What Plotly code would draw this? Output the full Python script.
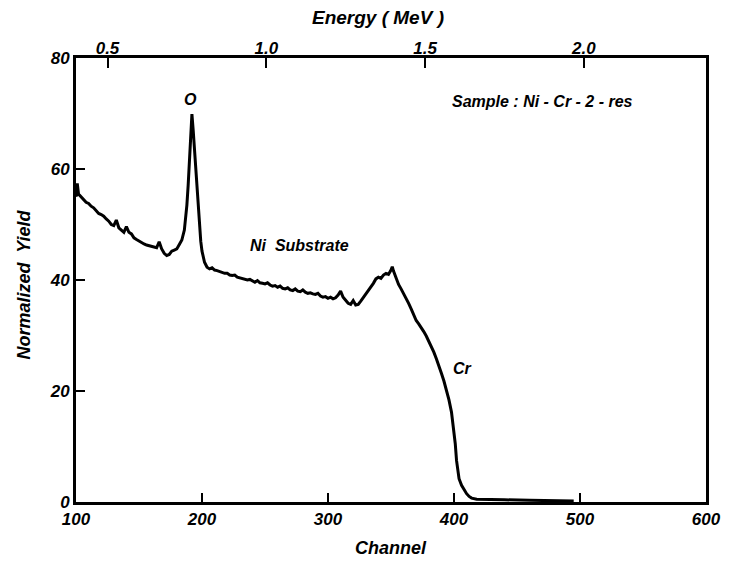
import plotly.graph_objects as go

channel = [100, 101, 102, 104, 106, 108, 110, 112, 114, 116, 118, 120, 122, 124, 126, 128, 130, 132, 134, 136,
           138, 140, 142, 144, 146, 148, 150, 152, 154, 156, 158, 160, 162, 164, 166, 168, 170, 172, 174, 176,
           178, 180, 182, 184, 186, 187, 188, 189, 190, 191, 192, 193, 194, 195, 196, 197, 198, 199, 200, 201,
           202, 204, 206, 208, 210, 212, 214, 216, 218, 220, 222, 224, 226, 228, 230, 232, 234, 236, 238, 240,
           242, 244, 246, 248, 250, 252, 254, 256, 258, 260, 262, 264, 266, 268, 270, 272, 274, 276, 278, 280,
           282, 284, 286, 288, 290, 292, 294, 296, 298, 300, 302, 304, 306, 308, 310, 312, 314, 316, 318, 320,
           322, 324, 326, 328, 330, 332, 334, 336, 338, 340, 342, 344, 346, 348, 350, 351, 352, 354, 356, 358,
           360, 362, 364, 366, 368, 370, 372, 374, 376, 378, 380, 382, 384, 386, 388, 390, 392, 394, 396, 398,
           400, 401, 402, 403, 404, 406, 408, 410, 412, 414, 418, 425, 440, 460, 480, 495]
yield_ = [55.0, 57.4, 55.5, 55.0, 54.6, 54.0, 53.8, 53.3, 53.0, 52.4, 52.0, 51.8, 51.5, 51.0, 50.6, 50.0, 49.8, 50.8, 49.4, 49.0,
          48.6, 49.6, 48.6, 48.3, 47.6, 47.3, 47.0, 46.8, 46.5, 46.3, 46.2, 46.0, 46.0, 45.8, 46.9, 45.6, 44.8, 44.4, 44.6, 45.2,
          45.4, 45.6, 46.4, 47.2, 49.0, 51.0, 53.5, 57.0, 61.5, 66.0, 69.9, 67.0, 63.5, 59.5, 56.0, 53.0, 50.0, 47.0, 45.2, 44.0,
          43.2, 42.3, 42.0, 42.2, 41.8, 41.7, 41.5, 41.4, 41.2, 41.2, 40.9, 40.8, 40.9, 40.5, 40.4, 40.3, 40.1, 40.0, 40.1, 39.8,
          39.6, 39.9, 39.5, 39.4, 39.3, 39.5, 39.1, 38.9, 39.0, 38.7, 38.9, 38.5, 38.4, 38.6, 38.2, 38.1, 38.4, 38.0, 37.9, 38.2,
          37.8, 37.6, 37.7, 37.5, 37.4, 37.6, 37.1, 36.9, 37.0, 36.7, 36.9, 36.6, 36.8, 37.3, 38.0, 36.9, 36.3, 35.8, 35.6, 36.3,
          35.5, 35.6, 36.2, 36.8, 37.4, 38.0, 38.8, 39.4, 40.2, 40.5, 40.3, 40.9, 41.2, 41.0, 41.8, 42.4, 41.6, 40.2, 39.2, 38.4,
          37.6, 36.8, 35.8, 34.8, 33.6, 32.7, 32.1, 31.5, 30.7, 29.9, 29.0, 28.0, 27.0, 25.8, 24.6, 23.2, 21.8, 20.3, 18.4, 16.2,
          12.8, 10.5, 7.5, 5.5, 4.2, 3.0, 2.2, 1.5, 1.0, 0.7, 0.5, 0.5, 0.4, 0.3, 0.25, 0.2]

channel_ticks = [100, 200, 300, 400, 500, 600]
yield_ticks = [0, 20, 40, 60, 80]
energy_ticks = [0.5, 1.0, 1.5, 2.0]
energy_labels = ["0.5", "1.0", "1.5", "2.0"]

# energy calibration (MeV per channel)
E0, CH0, SLOPE = 0.5, 125.0, 1 / 252.0
def energy(ch):
    return E0 + (ch - CH0) * SLOPE

ch_range = [100, 600]
font_fam = "Liberation Sans"
tfont = dict(family=font_fam, size=17, color="black", style="italic", weight="bold")
titlefont = dict(family=font_fam, size=18, color="black", style="italic", weight="bold")
afont = dict(family=font_fam, size=16, color="black", style="italic", weight="bold")

fig = go.Figure()
fig.add_trace(go.Scatter(x=channel, y=yield_, mode="lines",
                         line=dict(color="black", width=3), showlegend=False))
fig.add_trace(go.Scatter(x=[energy(c) for c in ch_range], y=[None, None], xaxis="x2",
                         mode="lines", showlegend=False, hoverinfo="skip"))

annots = [
    dict(x=190.5, y=72.6, text="O"),
    dict(x=277, y=46.3, text="Ni  Substrate"),
    dict(x=407, y=24, text="Cr"),
    dict(x=470, y=72.2, text="Sample : Ni - Cr - 2 - res"),
]
for a in annots:
    fig.add_annotation(x=a["x"], y=a["y"], text=a["text"], showarrow=False, font=afont)

# axis titles
fig.add_annotation(xref="paper", yref="paper", x=0.479, y=1.0, yshift=41, text="Energy ( MeV )",
                   xanchor="center", yanchor="middle", showarrow=False, font=dict(titlefont, size=19))
fig.add_annotation(xref="paper", yref="paper", x=0.5, y=0.0, yshift=-46, text="Channel",
                   xanchor="center", yanchor="middle", showarrow=False, font=titlefont)
fig.add_annotation(xref="paper", yref="paper", x=0.0, y=0.49, xshift=-52, text="Normalized  Yield",
                   xanchor="center", yanchor="middle", textangle=-90, showarrow=False, font=titlefont)

fig.update_layout(
    width=730, height=561,
    margin=dict(l=76, r=24, t=58, b=59, autoexpand=False),
    paper_bgcolor="white", plot_bgcolor="white",
    xaxis=dict(range=ch_range, tickvals=channel_ticks, ticks="inside", ticklen=9, tickwidth=2,
               tickcolor="black", showline=True, linewidth=3, linecolor="black", mirror=True,
               showgrid=False, zeroline=False, tickfont=tfont, automargin=False),
    xaxis2=dict(range=[energy(c) for c in ch_range], overlaying="x", side="top",
                tickvals=energy_ticks, ticktext=energy_labels, ticks="inside", ticklen=10, tickwidth=2,
                tickcolor="black", showline=False, showgrid=False, zeroline=False, tickfont=tfont,
                automargin=False),
    yaxis=dict(range=[0, 80], tickvals=yield_ticks, ticks="inside", ticklen=9, tickwidth=2,
               tickcolor="black", showline=True, linewidth=3, linecolor="black", mirror=True,
               showgrid=False, zeroline=False, tickfont=tfont, automargin=False),
)

fig.write_html("out.html")
